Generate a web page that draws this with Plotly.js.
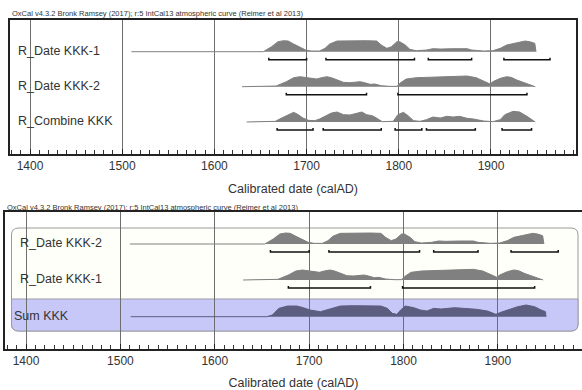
<!DOCTYPE html>
<html>
<head>
<meta charset="utf-8">
<script src="https://cdn.plot.ly/plotly-3.0.1.min.js"></script>
<style>html,body{margin:0;padding:0;background:#fff;}#chart{width:582px;height:390px;}</style>
</head>
<body>
<div id="chart"></div>
<script>
// ---------- data ----------
const headerText = "OxCal v4.3.2 Bronk Ramsey (2017); r:5 IntCal13 atmospheric curve (Reimer et al 2013)";
const axisTitle = "Calibrated date (calAD)";
const tickYears = [1400, 1500, 1600, 1700, 1800, 1900];

const panel1Labels = ["R_Date KKK-1", "R_Date KKK-2", "R_Combine KKK"];
const panel2Labels = ["R_Date KKK-2", "R_Date KKK-1", "Sum KKK"];

const kkk1Year = [1510,1653,1662,1669,1675,1680,1686,1693,1699,1705,1714,1720,1725,1733,1743,1765,1776,1781,1787,1792,1798,1801,1807,1812,1819,1830,1837,1845,1859,1874,1879,1892,1902,1910,1917,1928,1937,1942,1947.5,1948.8];
const kkk1Prob = [0,0,15,30,33,32,23,13,5,2,2,10,23,32,33,33,32,20,10,15,30,30,20,7,3,5,9,8,9,9,5,2,3,10,20,27,32,30,25,0];

const kkk2Year = [1630,1667,1678,1686,1693,1699,1705,1711,1716,1722,1727,1733,1740,1747,1758,1763,1769,1774,1781,1790,1798,1801,1808,1819,1830,1837,1855,1874,1884,1895,1899,1902,1910,1917,1922,1928,1935,1942,1948];
const kkk2Prob = [0,2,15,27,30,28,25,23,27,30,27,20,13,12,15,12,7,8,3,1,1,10,23,27,28,30,32,32,27,13,8,15,25,30,28,20,13,5,0];

const combYear = [1635,1666,1673,1680,1686,1691,1696,1702,1709,1714,1720,1727,1733,1740,1747,1754,1760,1765,1771,1774,1778,1782,1794,1799,1805,1810,1816,1823,1830,1837,1845,1852,1859,1866,1874,1881,1892,1902,1910,1915,1924,1931,1939,1948];
const combProb = [0,2,12,22,29,22,12,5,4,9,17,27,30,22,21,27,30,22,19,15,7,1,2,22,29,19,4,2,7,15,12,17,15,17,11,9,3,1,7,22,32,30,17,0];

const sumYear = [1511,1655,1661,1668,1677,1687,1694,1701,1712,1723,1733,1747,1762,1776,1783,1788,1793,1797,1802,1811,1818,1825,1832,1840,1847,1854,1864,1878,1889,1898,1903,1910,1921,1930,1939,1946,1950.5,1951];
const sumProb = [0,0,5,25,32,32,27,20,15,25,32,33,33,32,25,10,7,20,32,27,20,17,25,23,25,27,25,22,17,7,13,20,30,35,30,20,15,0];

// 95.4% ranges
const kkk1Ranges = [[1659,1700],[1721,1817],[1832,1879],[1914,1964]];
const kkk2Ranges = [[1678,1765],[1799,1939]];
const combRanges = [[1668,1707],[1718,1781],[1796,1825],[1830,1883],[1912,1944]];

// ---------- layout constants (pixels) ----------
const W = 582, H = 390;
const py = p => 1 - p / H;
const pxx = p => p / W;
const GRAY = '#808080', SUMC = '#5d5d80', TXT = '#333';
const FONT = 'Liberation Sans, Arial, sans-serif';

function bandDomain(base) { return [py(base + 10), py(base - 20)]; }
const rowRange = [-30, 60];

function distTrace(xs, ys, xa, ya, col) {
  return {type:'scatter', mode:'lines', x:xs, y:ys, xaxis:xa, yaxis:ya,
    fill:'tozeroy', fillcolor:col, line:{color:col, width:1}, hoverinfo:'skip', showlegend:false};
}
function rangeTrace(ranges, xa, ya) {
  const x = [], y = [];
  ranges.forEach(r => { x.push(r[0], r[0], r[1], r[1], null); y.push(-18, -24, -24, -18, null); });
  return {type:'scatter', mode:'lines', x:x, y:y, xaxis:xa, yaxis:ya,
    line:{color:'#111', width:1.5}, hoverinfo:'skip', showlegend:false};
}
// empty trace that only establishes a panel's frame subplot
function frameTrace(xa, ya) {
  return {type:'scatter', mode:'lines', x:[], y:[], xaxis:xa, yaxis:ya, hoverinfo:'skip', showlegend:false};
}

const traces = [
  frameTrace('x', 'y'), frameTrace('x2', 'y5'),
  distTrace(kkk1Year, kkk1Prob, 'x', 'y2', GRAY), rangeTrace(kkk1Ranges, 'x', 'y2'),
  distTrace(kkk2Year, kkk2Prob, 'x', 'y3', GRAY), rangeTrace(kkk2Ranges, 'x', 'y3'),
  distTrace(combYear, combProb, 'x', 'y4', GRAY), rangeTrace(combRanges, 'x', 'y4'),
  distTrace(kkk1Year, kkk1Prob, 'x2', 'y6', GRAY), rangeTrace(kkk1Ranges, 'x2', 'y6'),
  distTrace(kkk2Year, kkk2Prob, 'x2', 'y7', GRAY), rangeTrace(kkk2Ranges, 'x2', 'y7'),
  distTrace(sumYear, sumProb, 'x2', 'y8', SUMC)
];

function xAxis(domain, range, anchor) {
  return {domain:domain, range:range, anchor:anchor, tickmode:'array', tickvals:tickYears,
    ticktext:tickYears.map(String), ticks:'inside', ticklen:5, tickcolor:'#222', tickwidth:1,
    showgrid:true, gridcolor:'#6e6e6e', gridwidth:1, zeroline:false,
    showline:true, linecolor:'#222', linewidth:2, mirror:true,
    minor:{dtick:10, tick0:0, ticks:'inside', ticklen:4, tickcolor:'#333', tickwidth:1, showgrid:false},
    tickfont:{family:FONT, size:12, color:TXT},
    title:{text:axisTitle, font:{family:FONT, size:12.5, color:TXT}, standoff:12},
    automargin:false, fixedrange:true};
}
function frameY(domain, anchor, mirror) {
  return {domain:domain, range:[0,1], anchor:anchor, showline:true, linecolor:'#222', linewidth:2,
    mirror:mirror, showgrid:false, zeroline:false, showticklabels:false, ticks:'', fixedrange:true};
}
function rowY(base, anchor) {
  return {domain:bandDomain(base), range:rowRange, anchor:anchor, visible:false, fixedrange:true};
}

const p1Base = [51.7, 86.7, 122];
const p2Base = [244, 280, 316.7];

function roundRect(x0, y0, x1, y1, r, top, bottom) {
  const X = pxx, Y = py;
  let d = '';
  if (top) {
    d += `M ${X(x0)} ${Y(y0 + r)} Q ${X(x0)} ${Y(y0)} ${X(x0 + r)} ${Y(y0)} L ${X(x1 - r)} ${Y(y0)} Q ${X(x1)} ${Y(y0)} ${X(x1)} ${Y(y0 + r)}`;
  } else {
    d += `M ${X(x0)} ${Y(y0)} L ${X(x1)} ${Y(y0)}`;
  }
  if (bottom) {
    d += ` L ${X(x1)} ${Y(y1 - r)} Q ${X(x1)} ${Y(y1)} ${X(x1 - r)} ${Y(y1)} L ${X(x0 + r)} ${Y(y1)} Q ${X(x0)} ${Y(y1)} ${X(x0)} ${Y(y1 - r)} Z`;
  } else {
    d += ` L ${X(x1)} ${Y(y1)} L ${X(x0)} ${Y(y1)} Z`;
  }
  return d;
}

const annotations = [];
annotations.push({text:headerText, xref:'paper', yref:'paper', x:pxx(10), y:py(14), xanchor:'left', yanchor:'middle',
  showarrow:false, font:{family:FONT, size:7.5, color:TXT}});
annotations.push({text:headerText, xref:'paper', yref:'paper', x:pxx(5), y:py(207.5), xanchor:'left', yanchor:'middle',
  showarrow:false, font:{family:FONT, size:7.5, color:TXT}});
panel1Labels.forEach((t, i) => annotations.push({text:t, xref:'paper', yref:'y' + (i + 2), x:pxx(16), y:3,
  xanchor:'left', yanchor:'middle', showarrow:false, font:{family:FONT, size:12.5, color:TXT}}));
panel2Labels.forEach((t, i) => annotations.push({text:t, xref:'paper', yref:'y' + (i + 6), x:pxx(i === 2 ? 12 : 18), y:3,
  xanchor:'left', yanchor:'middle', showarrow:false, font:{family:FONT, size:12.5, color:TXT}}));

const layout = {
  width:W, height:H, margin:{l:0, r:0, t:0, b:0}, paper_bgcolor:'#fff', plot_bgcolor:'rgba(0,0,0,0)',
  showlegend:false, font:{family:FONT},
  xaxis: xAxis([pxx(10), pxx(576)], [1378.3, 1992.2], 'y'),
  yaxis: frameY([py(154), py(20)], 'x', true),
  yaxis2: rowY(p1Base[0], 'x'), yaxis3: rowY(p1Base[1], 'x'), yaxis4: rowY(p1Base[2], 'x'),
  xaxis2: xAxis([pxx(5), 1], [1377.7, 1989.2], 'y5'),
  yaxis5: frameY([py(349), py(212)], 'x2', false),
  yaxis6: rowY(p2Base[0], 'x2'), yaxis7: rowY(p2Base[1], 'x2'), yaxis8: rowY(p2Base[2], 'x2'),
  shapes: [
    {type:'path', xref:'paper', yref:'paper', layer:'below', path:roundRect(11.5, 228, 578, 331, 7, true, true),
      fillcolor:'#fffffa', line:{color:'#9a9a9a', width:1}},
    {type:'path', xref:'paper', yref:'paper', layer:'below', path:roundRect(11.5, 299, 578, 331, 7, false, true),
      fillcolor:'#c8c8f8', line:{color:'#9a9aa8', width:1}}
  ],
  annotations: annotations
};

Plotly.newPlot('chart', traces, layout, {staticPlot:true, displayModeBar:false});
</script>
</body>
</html>
